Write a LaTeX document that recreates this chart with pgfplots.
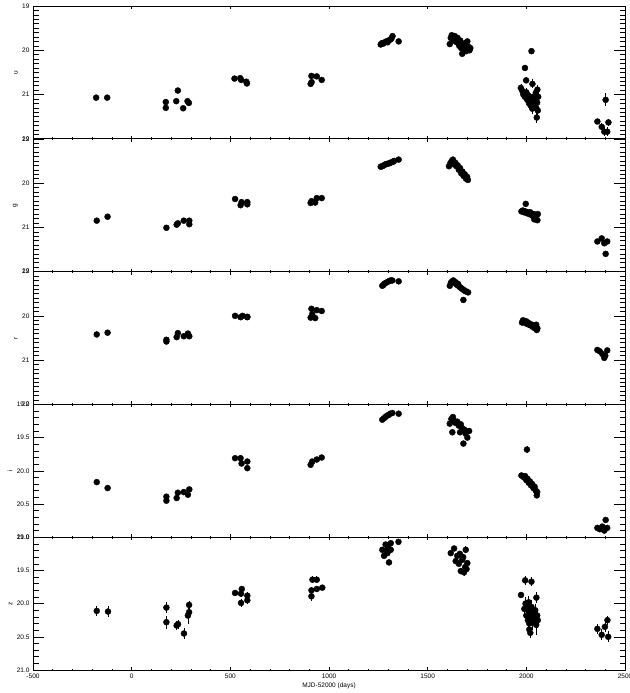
\documentclass[border=0pt]{standalone}
\usepackage{fontspec}
\setmainfont{Liberation Sans}
\usepackage{pgfplots}
\usepackage{pgfplotstable}
\pgfplotsset{compat=1.18}

\pgfplotstableread{
x y e
-180 21.07 0.04
-124 21.07 0.04
173 21.17 0.06
173 21.30 0.07
226 21.15 0.05
234 20.91 0.05
261 21.31 0.05
283 21.15 0.08
290 21.19 0.06
521 20.64 0.03
550 20.63 0.03
555 20.67 0.03
581 20.71 0.03
584 20.75 0.03
907 20.76 0.04
911 20.58 0.04
912 20.72 0.04
938 20.59 0.04
963 20.67 0.03
1262 19.87 0.03
1268 19.84 0.03
1275 19.85 0.03
1283 19.82 0.03
1290 19.80 0.03
1297 19.82 0.03
1303 19.78 0.03
1310 19.76 0.03
1316 19.74 0.03
1322 19.68 0.03
1353 19.80 0.03
1612 19.86 0.04
1617 19.72 0.04
1622 19.66 0.04
1627 19.70 0.04
1632 19.78 0.04
1637 19.68 0.04
1642 19.74 0.04
1647 19.82 0.04
1651 19.72 0.04
1656 19.80 0.04
1660 19.90 0.04
1665 19.78 0.04
1670 19.95 0.04
1675 20.08 0.04
1678 19.88 0.04
1685 19.98 0.04
1690 19.84 0.04
1695 20.02 0.04
1701 19.80 0.05
1706 19.92 0.04
1712 20.00 0.04
1716 19.95 0.04
2026 20.02 0.05
1993 20.40 0.06
1999 20.68 0.07
1972 20.85 0.08
2031 20.76 0.10
2056 20.89 0.10
2053 21.52 0.12
1980 20.92 0.10
1985 21.00 0.10
1992 21.05 0.10
2000 20.95 0.10
2005 21.12 0.12
2010 21.02 0.10
2014 21.20 0.12
2018 21.08 0.10
2022 21.25 0.12
2026 21.15 0.10
2030 21.32 0.12
2035 21.05 0.10
2040 21.22 0.10
2045 21.10 0.10
2050 21.30 0.12
2055 21.18 0.10
2058 21.36 0.12
2048 20.96 0.10
2060 21.05 0.10
2360 21.61 0.06
2382 21.73 0.08
2402 21.12 0.15
2416 21.63 0.08
2395 21.84 0.10
2410 21.84 0.10
}\udata

\pgfplotstableread{
x y e
-177 20.85 0.02
-122 20.76 0.02
176 21.01 0.02
228 20.94 0.02
234 20.91 0.02
264 20.85 0.02
292 20.85 0.02
292 20.93 0.02
524 20.36 0.02
552 20.50 0.02
557 20.43 0.02
586 20.43 0.02
586 20.48 0.02
907 20.45 0.02
911 20.41 0.02
930 20.44 0.02
938 20.34 0.02
963 20.34 0.02
1262 19.63 0.02
1270 19.62 0.02
1278 19.60 0.02
1285 19.58 0.02
1292 19.57 0.02
1300 19.56 0.02
1308 19.55 0.02
1316 19.53 0.02
1324 19.52 0.02
1330 19.50 0.02
1353 19.47 0.02
1608 19.62 0.02
1615 19.55 0.02
1622 19.50 0.02
1628 19.47 0.02
1634 19.58 0.02
1640 19.54 0.02
1646 19.62 0.02
1652 19.60 0.02
1658 19.70 0.02
1664 19.66 0.02
1670 19.78 0.02
1676 19.74 0.02
1682 19.84 0.02
1688 19.80 0.02
1694 19.90 0.02
1700 19.86 0.02
1704 19.93 0.02
1997 20.47 0.02
1975 20.64 0.02
1982 20.62 0.02
1988 20.66 0.02
1995 20.64 0.02
2002 20.68 0.02
2008 20.66 0.02
2014 20.70 0.02
2020 20.66 0.02
2026 20.72 0.02
2032 20.74 0.02
2038 20.70 0.02
2044 20.78 0.02
2050 20.76 0.02
2056 20.84 0.02
2058 20.70 0.02
2040 20.82 0.02
2360 21.32 0.02
2382 21.25 0.02
2395 21.36 0.02
2410 21.32 0.02
2402 21.60 0.05
}\gdata

\pgfplotstableread{
x y e
-177 20.42 0.02
-122 20.38 0.02
176 20.54 0.02
176 20.58 0.02
228 20.48 0.02
234 20.39 0.02
264 20.46 0.02
285 20.40 0.02
292 20.46 0.02
524 20.00 0.02
552 20.03 0.02
562 20.00 0.02
586 20.03 0.02
586 20.02 0.02
907 20.04 0.02
911 19.84 0.02
915 19.96 0.02
930 20.05 0.02
938 19.87 0.02
963 19.89 0.02
1270 19.32 0.02
1276 19.30 0.02
1282 19.27 0.02
1290 19.25 0.02
1298 19.23 0.02
1306 19.21 0.02
1314 19.20 0.02
1321 19.20 0.02
1353 19.22 0.02
1612 19.32 0.02
1618 19.25 0.02
1624 19.22 0.02
1630 19.20 0.02
1636 19.26 0.02
1642 19.24 0.02
1648 19.30 0.02
1654 19.28 0.02
1660 19.34 0.02
1666 19.36 0.02
1672 19.38 0.02
1678 19.40 0.02
1684 19.42 0.02
1690 19.44 0.02
1696 19.45 0.02
1705 19.47 0.02
1681 19.64 0.02
1978 20.15 0.02
1983 20.10 0.02
1988 20.13 0.02
1993 20.16 0.02
1998 20.12 0.02
2003 20.18 0.02
2008 20.15 0.02
2013 20.20 0.02
2018 20.18 0.02
2023 20.22 0.02
2028 20.20 0.02
2033 20.25 0.02
2038 20.23 0.02
2043 20.28 0.02
2048 20.26 0.02
2053 20.32 0.02
2056 20.28 0.02
2050 20.20 0.02
2360 20.77 0.02
2372 20.80 0.02
2385 20.86 0.02
2395 20.95 0.02
2400 20.90 0.02
2410 20.78 0.02
}\rdata

\pgfplotstableread{
x y e
-177 20.17 0.02
-122 20.26 0.02
176 20.39 0.02
176 20.45 0.02
228 20.41 0.02
234 20.33 0.02
264 20.32 0.02
285 20.36 0.02
292 20.28 0.02
524 19.81 0.02
552 19.81 0.02
557 19.89 0.02
586 19.86 0.02
586 19.96 0.02
907 19.91 0.02
915 19.86 0.02
938 19.83 0.02
963 19.80 0.02
1270 19.23 0.02
1278 19.21 0.02
1286 19.19 0.02
1294 19.17 0.02
1302 19.16 0.02
1310 19.14 0.02
1321 19.13 0.02
1353 19.14 0.02
1612 19.29 0.02
1620 19.22 0.02
1628 19.19 0.02
1625 19.42 0.02
1635 19.25 0.02
1642 19.28 0.02
1650 19.26 0.02
1658 19.32 0.02
1664 19.42 0.02
1668 19.30 0.02
1675 19.36 0.02
1681 19.59 0.02
1686 19.38 0.02
1692 19.44 0.02
1701 19.50 0.02
1710 19.40 0.02
2003 19.68 0.05
1975 20.07 0.02
1982 20.08 0.02
1988 20.10 0.02
1994 20.08 0.02
2000 20.14 0.02
2006 20.12 0.02
2012 20.18 0.02
2018 20.16 0.02
2024 20.22 0.02
2030 20.20 0.02
2036 20.26 0.02
2042 20.24 0.02
2048 20.30 0.02
2053 20.37 0.03
2055 20.32 0.02
2360 20.86 0.02
2372 20.88 0.02
2385 20.84 0.02
2395 20.90 0.02
2402 20.74 0.05
2410 20.86 0.02
}\idata

\pgfplotstableread{
x y e
-177 20.11 0.08
-120 20.12 0.08
176 20.06 0.08
176 20.28 0.10
228 20.33 0.07
235 20.31 0.07
265 20.45 0.08
285 20.18 0.12
291 20.13 0.06
291 20.02 0.06
524 19.84 0.05
558 19.78 0.05
554 19.85 0.05
554 19.99 0.06
586 19.88 0.06
586 19.95 0.05
911 19.89 0.07
911 19.80 0.05
916 19.64 0.05
938 19.64 0.05
938 19.78 0.05
966 19.76 0.04
1270 19.19 0.04
1279 19.28 0.04
1287 19.11 0.04
1296 19.24 0.04
1304 19.38 0.04
1313 19.09 0.04
1313 19.19 0.04
1300 19.15 0.04
1290 19.20 0.04
1352 19.07 0.03
1617 19.24 0.04
1634 19.17 0.04
1642 19.36 0.04
1650 19.28 0.04
1658 19.40 0.04
1668 19.51 0.05
1675 19.34 0.04
1684 19.53 0.05
1693 19.19 0.05
1701 19.39 0.04
1690 19.45 0.04
1680 19.30 0.04
1663 19.25 0.04
1697 19.48 0.04
1994 19.65 0.07
2026 19.67 0.07
1973 19.87 0.05
2051 19.91 0.08
1990 20.08 0.10
1996 20.00 0.10
2000 20.18 0.10
2005 20.05 0.10
2008 20.25 0.12
2012 19.98 0.10
2015 20.30 0.12
2018 20.12 0.10
2022 20.20 0.10
2026 20.05 0.10
2030 20.28 0.12
2034 20.15 0.10
2040 20.22 0.10
2045 20.10 0.10
2050 20.32 0.15
2055 20.18 0.10
2058 20.25 0.12
2015 20.39 0.08
2020 20.44 0.08
2360 20.38 0.08
2382 20.47 0.08
2398 20.35 0.08
2411 20.25 0.07
2415 20.50 0.08
}\zdata

\pgfplotsset{
  base/.style={scale only axis, width=592pt, height=132.8pt,
    xmin=-500, xmax=2500, y dir=reverse,
    axis line style={line width=0.9pt},
    tick style={black, line width=0.5pt}, tick align=inside,
    ticklabel style={font=\fontsize{6.5}{7}\selectfont},
    /pgf/number format/assume math mode=true,
    /pgf/number format/1000 sep={},
    anchor=south west},
  dataax/.style={base, xtick={-500,0,...,2500}, minor x tick num=4,
    major tick length=3pt, minor tick length=1.5pt,
    ytick style={draw=none}, minor y tick num=0,
    ylabel style={font=\fontsize{6.5}{7}\selectfont, inner sep=1pt}},
  tickax/.style={base, xtick=\empty, yticklabels={},
    major tick length=11pt, minor tick length=5.5pt},
  intax/.style={ymin=19, ymax=22, ytick={19,20,21,22}},
  halfax/.style={ymin=19, ymax=21, ytick={19,19.5,20,20.5,21},
    yticklabel style={/pgf/number format/.cd, fixed, fixed zerofill, precision=1}},
  pts/.style={only marks, mark=*, mark size=3pt, black,
    error bars/.cd, y dir=both, y explicit, error mark=none,
    error bar style={line width=0.6pt, black}},
}

\begin{document}
\begin{tikzpicture}
\useasboundingbox (0,0) rectangle (629pt,693pt);
% u
\begin{axis}[dataax, intax, at={(33pt,554.2pt)}, xticklabels={}, ylabel={u}]
\addplot[pts] table[x=x, y=y, y error=e] {\udata};
\end{axis}
\begin{axis}[tickax, intax, at={(33pt,554.2pt)}, minor y tick num=9]
\end{axis}
% g
\begin{axis}[dataax, intax, at={(33pt,421.4pt)}, xticklabels={}, ylabel={g}]
\addplot[pts] table[x=x, y=y, y error=e] {\gdata};
\end{axis}
\begin{axis}[tickax, intax, at={(33pt,421.4pt)}, minor y tick num=9]
\end{axis}
% r
\begin{axis}[dataax, intax, at={(33pt,288.6pt)}, xticklabels={}, ylabel={r}]
\addplot[pts] table[x=x, y=y, y error=e] {\rdata};
\end{axis}
\begin{axis}[tickax, intax, at={(33pt,288.6pt)}, minor y tick num=9]
\end{axis}
% i
\begin{axis}[dataax, halfax, at={(33pt,155.8pt)}, xticklabels={}, ylabel={i}]
\addplot[pts] table[x=x, y=y, y error=e] {\idata};
\end{axis}
\begin{axis}[tickax, halfax, at={(33pt,155.8pt)}, minor y tick num=4]
\end{axis}
% z
\begin{axis}[dataax, halfax, at={(33pt,23pt)}, ylabel={z},
  xlabel={MJD-52000 (days)},
  xlabel style={font=\fontsize{6.5}{7}\selectfont, inner sep=1pt}]
\addplot[pts] table[x=x, y=y, y error=e] {\zdata};
\end{axis}
\begin{axis}[tickax, halfax, at={(33pt,23pt)}, minor y tick num=4]
\end{axis}
\end{tikzpicture}
\end{document}
